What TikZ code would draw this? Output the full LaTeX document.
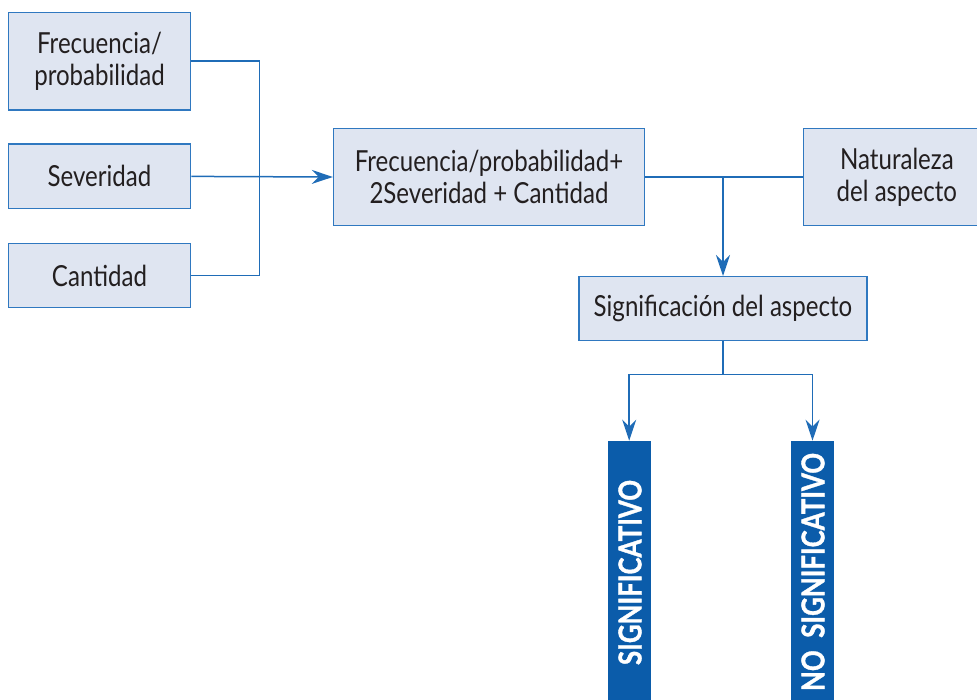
\documentclass[tikz,border=0pt]{standalone}
\usepackage{fontspec}
\setmainfont{Lato}[FakeStretch=0.83]
\newfontfamily\barfont{Lato}[FakeStretch=0.95, FakeBold=1.2]
\usetikzlibrary{arrows.meta}
\definecolor{boxfill}{HTML}{DFE5F1}
\definecolor{boxline}{HTML}{2F78C0}
\definecolor{conn}{HTML}{1F6CB7}
\definecolor{barblue}{HTML}{0B5CAA}
\definecolor{txt}{HTML}{231F20}
\tikzset{
  x=1pt, y=-1pt,
  box/.style={draw=boxline, fill=boxfill, line width=1.4pt, rectangle, inner sep=0pt,
    text=txt, align=center, font=\fontsize{29}{32}\selectfont},
  bar/.style={fill=barblue, draw=none, rectangle, inner sep=0pt},
  conline/.style={draw=conn, line width=1.5pt},
  arr/.style={conline, -{Stealth[length=21pt, width=14pt, inset=7pt]}},
  bartext/.style={text=white, rotate=90, inner sep=0pt, font=\barfont\bfseries}
}
\begin{document}
\begin{tikzpicture}
\useasboundingbox (0,0) rectangle (977,699);
\clip (0,0) rectangle (977,699);
\node[box, minimum width=182.4pt, minimum height=97.7pt] (b1) at (99.5,61.2) {Frecuencia/\\probabilidad};
\node[box, minimum width=182.4pt, minimum height=64.7pt] (b2) at (99.5,176.4) {Severidad};
\node[box, minimum width=182.4pt, minimum height=64.4pt] (b3) at (99.5,275.5) {Cantidad};
\node[box, minimum width=311pt, minimum height=97.3pt] (main) at (489,177) {Frecuencia/probabilidad+\\2Severidad + Cantidad};
\node[box, minimum width=186.3pt, minimum height=97.3pt] (nat) at (896.9,177) {Naturaleza\\del aspecto};
\node[box, minimum width=288pt, minimum height=64pt] (sig) at (723,308.7) {Significación del aspecto};
\node[bar, minimum width=43pt, minimum height=270pt, anchor=north] (bar1) at (629.2,440.7) {};
\node[bar, minimum width=43pt, minimum height=270pt, anchor=north] (bar2) at (812.5,440.7) {};
\node[bartext] (t1) at (630,572.5) {\resizebox{185pt}{23pt}{SIGNIFICATIVO}};
\node[bartext] (t2) at (813,572) {\resizebox{238pt}{23pt}{NO\ \ SIGNIFICATIVO}};
\coordinate (j) at (259.3,176.4);
\draw[conline] (b1.east) -| (j);
\draw[conline] (b3.east) -| (j);
\draw[arr] (b2.east) -- (main.west);
\draw[conline] (main.east) -- (nat.west);
\draw[arr] (sig.north |- main.east) -- (sig.north);
\coordinate (m) at (723,374.7);
\draw[conline] (sig.south) -- (m);
\draw[arr] (m) -| (bar1.north);
\draw[arr] (m) -| (bar2.north);
\end{tikzpicture}
\end{document}
